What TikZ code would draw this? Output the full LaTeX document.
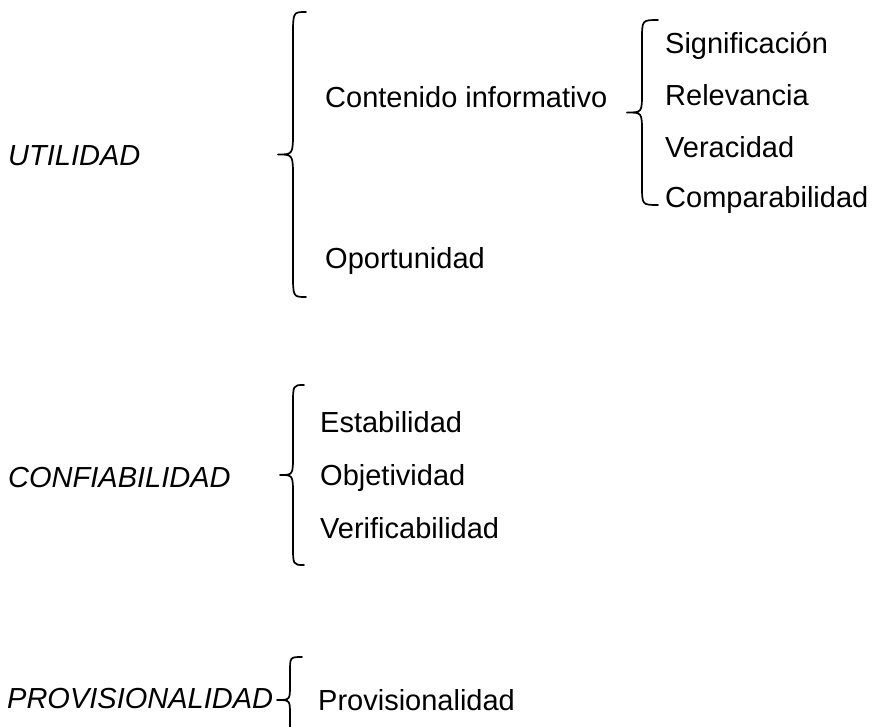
\documentclass[tikz,border=0pt]{standalone}
\usepackage{fontspec}
\setmainfont{Liberation Sans}
\tikzset{
  bracestyle/.style={line width=1.7pt, line join=round, line cap=round},
  pics/lbrace/.style n args={4}{code={%
    \draw[bracestyle] (#3,-#1) .. controls (0,-#1) .. (0,-#1+#4) -- (0,-#4)
      .. controls (0,0) .. (-#2,0) .. controls (0,0) .. (0,#4) -- (0,#1-#4)
      .. controls (0,#1) .. (#3,#1);
  }},
  lab/.style={anchor=base west, inner sep=0pt, font=\fontsize{29}{34}\selectfont},
  head/.style={anchor=base west, inner sep=0pt, font=\fontsize{29}{34}\selectfont\itshape},
}
\begin{document}
\begin{tikzpicture}[x=1pt,y=-1pt]
\fill[white] (0,0) rectangle (880,727);
\useasboundingbox (0,0) rectangle (880,727);

% UTILIDAD
\node[head] (util) at (8,165.5) {UTILIDAD};
\pic at (293,154.5) {lbrace={142.5}{15}{13}{24}};
\node[lab] (cont) at (325,107.5) {Contenido informativo};
\node[lab] (opor) at (325,268.5) {Oportunidad};
\pic at (642,112.5) {lbrace={92.5}{15}{16}{20}};
\node[lab] (sign) at (665,53.5) {Significación};
\node[lab] (rele) at (665,105.5) {Relevancia};
\node[lab] (vera) at (665,157.5) {Veracidad};
\node[lab] (comp) at (665,207.5) {Comparabilidad};

% CONFIABILIDAD
\node[head] (conf) at (8,487.5) {CONFIABILIDAD};
\pic at (293,475) {lbrace={90}{13}{11}{20}};
\node[lab] (esta) at (320,432.5) {Estabilidad};
\node[lab] (obje) at (320,485.5) {Objetividad};
\node[lab] (veri) at (320,538.5) {Verificabilidad};

% PROVISIONALIDAD
\node[head] (prov) at (7,708.5) {PROVISIONALIDAD};
\pic at (290,700) {lbrace={43}{13}{12}{15}};
\node[lab] (provi) at (318,710.5) {Provisionalidad};
\end{tikzpicture}
\end{document}
